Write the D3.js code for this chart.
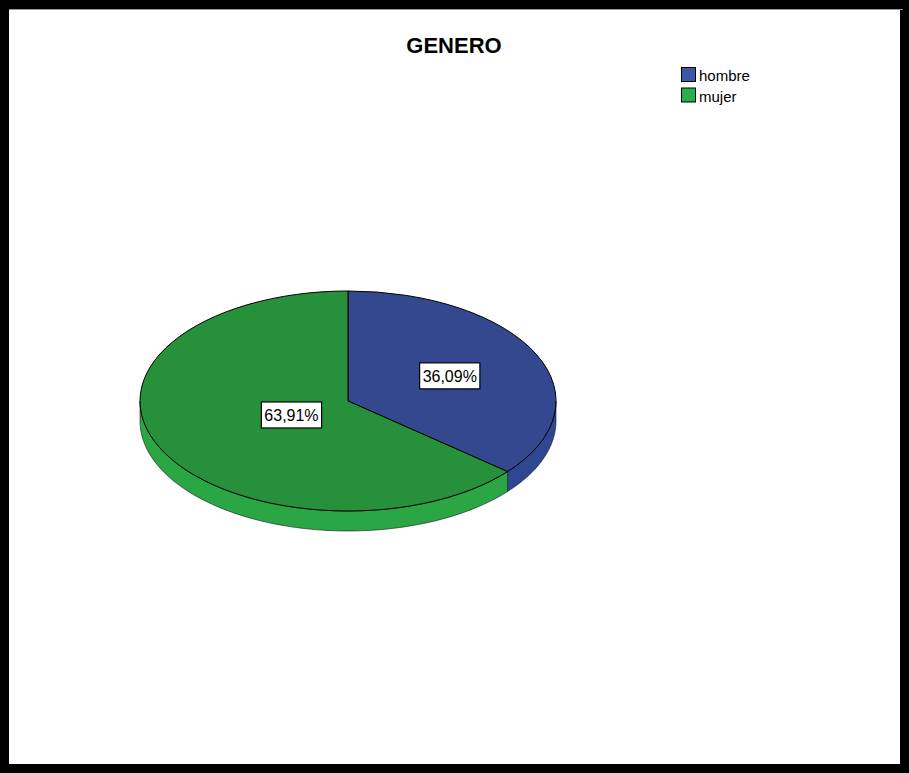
<!DOCTYPE html>
<html>
<head>
<meta charset="utf-8">
<script src="https://cdn.jsdelivr.net/npm/d3@7"></script>
<style>
  body { margin: 0; background: #fff; }
  svg { display: block; }
</style>
</head>
<body>
<div id="chart"></div>
<script>
// data
var categories = ['hombre', 'mujer'];
var percents = [36.09, 63.91];
var labels = ['36,09%', '63,91%'];
var title = 'GENERO';

var W = 909, H = 773;
var topColors = ['#33488e', '#26913a'];
var sideColors = ['#2f4690', '#2aa744'];
var legendColors = ['#3d56a8', '#2ab04a'];
var labelFrac = [0.54, 0.30];

// pie geometry
var cx = 348, cy = 401, rx = 208, ry = 110, depth = 20;

var svg = d3.select('#chart').append('svg')
  .attr('width', W)
  .attr('height', H);

// frame
svg.append('rect')
  .attr('x', 4.5).attr('y', 4.5)
  .attr('width', W - 9).attr('height', H - 9)
  .attr('fill', '#fff')
  .attr('stroke', '#000')
  .attr('stroke-width', 9);
svg.append('line')
  .attr('x1', 9).attr('x2', W - 6)
  .attr('y1', 9.5).attr('y2', 9.5)
  .attr('stroke', '#999').attr('stroke-width', 1);

// title
svg.append('text')
  .attr('x', 454).attr('y', 53)
  .attr('text-anchor', 'middle')
  .attr('font-family', 'Liberation Sans, Arial, sans-serif')
  .attr('font-size', 22)
  .attr('font-weight', 'bold')
  .text(title);

var pie = d3.pie().sort(null).startAngle(0).endAngle(2 * Math.PI);
var arcs = pie(percents);

// point on the ellipse for an angle measured clockwise from 12 o'clock
function pt(a, dy) {
  return [cx + rx * Math.sin(a), cy - ry * Math.cos(a) + (dy || 0)];
}

// side walls (only the front half is visible)
var g = svg.append('g');
arcs.forEach(function (d, i) {
  var a0 = Math.max(d.startAngle, Math.PI / 2);
  var a1 = Math.min(d.endAngle, 3 * Math.PI / 2);
  if (a1 <= a0) return;
  var n = 60, top = [], bot = [];
  for (var k = 0; k <= n; k++) {
    var a = a0 + (a1 - a0) * k / n;
    top.push(pt(a));
    bot.push(pt(a, depth));
  }
  var pts = top.concat(bot.reverse());
  g.append('path')
    .attr('d', d3.line()(pts) + 'Z')
    .attr('fill', sideColors[i])
    .attr('stroke', '#1a1a1a')
    .attr('stroke-width', 0.6);
});

// top faces
var arc = d3.arc().innerRadius(0).outerRadius(rx);
var topG = svg.append('g')
  .attr('transform', 'translate(' + cx + ',' + cy + ') scale(1,' + (ry / rx) + ')');
topG.selectAll('path')
  .data(arcs)
  .enter().append('path')
  .attr('d', arc)
  .attr('fill', function (d, i) { return topColors[i]; })
  .attr('stroke', '#000')
  .attr('stroke-width', 1)
  .attr('vector-effect', 'non-scaling-stroke');

// labels
arcs.forEach(function (d, i) {
  var m = (d.startAngle + d.endAngle) / 2;
  var x = cx + rx * labelFrac[i] * Math.sin(m);
  var y = cy - ry * labelFrac[i] * Math.cos(m);
  var t = svg.append('text')
    .attr('x', x).attr('y', y + 6)
    .attr('text-anchor', 'middle')
    .attr('font-family', 'Liberation Sans, Arial, sans-serif')
    .attr('font-size', 16)
    .text(labels[i]);
  var b = t.node().getBBox();
  svg.insert('rect', function () { return t.node(); })
    .attr('x', b.x - 3).attr('y', y - 13)
    .attr('width', b.width + 6).attr('height', 26)
    .attr('fill', '#fff')
    .attr('stroke', '#000')
    .attr('stroke-width', 1.2);
});

// legend
var leg = svg.append('g').attr('transform', 'translate(681,67)');
categories.forEach(function (c, i) {
  leg.append('rect')
    .attr('x', 0.5).attr('y', i * 20.5 + 0.5)
    .attr('width', 14).attr('height', 14)
    .attr('fill', legendColors[i])
    .attr('stroke', '#000').attr('stroke-width', 1);
  leg.append('text')
    .attr('x', 18).attr('y', i * 20.5 + 14)
    .attr('font-family', 'Liberation Sans, Arial, sans-serif')
    .attr('font-size', 15)
    .text(c);
});
</script>
</body>
</html>
